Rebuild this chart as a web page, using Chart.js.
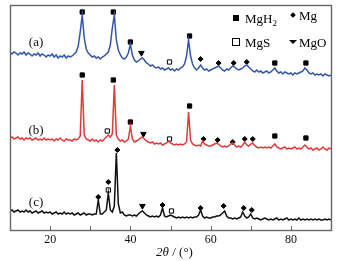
<!DOCTYPE html>
<html>
<head>
<meta charset="utf-8">
<script src="https://cdn.jsdelivr.net/npm/chart.js@4/dist/chart.umd.min.js"></script>
<style>
  html, body { margin: 0; padding: 0; background: #fff; }
  #wrap { width: 339px; height: 261px; }
</style>
</head>
<body>
<div id="wrap"><canvas id="xrdChart" width="339" height="261"></canvas></div>
<script>
// 2theta grid, 10..90 in 0.5 deg steps (161 points)
const twoTheta = [];
for (let i = 0; i <= 160; i++) twoTheta.push(10 + i * 0.5);

// intensities (arbitrary units, stacked)
const countsA = [
  178,176,178,177,175,177,176,178,175,177,
  176,174,176,175,177,174,176,175,173,175,
  174,176,173,175,172,174,173,175,172,174,
  173,174,176,178,184,198,215,192,181,177,
  175,173,174,172,173,171,173,174,176,178,
  185,202,215,190,180,175,172,171,173,177,
  186,175,170,168,169,171,172,170,167,166,
  164,165,163,162,163,161,162,160,161,162,
  160,161,159,161,160,162,163,166,174,190,
  174,166,162,160,162,165,162,160,161,159,
  160,161,162,163,164,162,160,159,161,160,
  162,164,163,161,160,161,162,164,165,163,
  161,159,158,160,158,159,157,158,159,157,
  158,160,162,159,157,158,156,158,157,156,
  157,155,157,156,157,158,159,162,160,157,
  156,157,155,156,155,156,154,156,155,154,155
];
const countsB = [
  92,93,91,92,93,91,92,90,92,91,
  92,90,91,92,90,91,90,92,90,91,
  90,91,89,91,90,92,90,89,91,90,
  90,89,91,90,91,94,150,95,91,90,
  89,91,89,90,88,90,89,91,93,95,
  93,96,145,95,91,89,90,88,89,91,
  104,91,88,89,90,92,93,91,89,88,
  87,88,86,87,86,87,85,86,87,89,
  87,86,85,86,85,86,85,86,88,118,
  90,86,85,84,85,84,89,86,85,84,
  84,85,86,87,86,84,83,84,83,84,
  86,87,85,83,84,83,85,88,85,84,
  86,87,84,83,82,83,82,83,82,83,
  82,84,86,83,82,81,82,83,81,82,
  81,82,83,81,82,81,83,85,83,81,
  82,80,81,82,80,81,83,81,80,82,81
];
const countsC = [
  19,20,18,19,20,18,19,18,20,18,
  19,17,18,19,17,18,19,17,18,17,
  18,16,17,18,16,17,16,18,16,17,
  16,17,15,16,17,15,16,17,15,16,
  16,15,16,16,30,16,16,18,20,37,
  20,18,24,77,26,17,18,15,14,15,
  15,14,15,14,16,18,19,17,15,14,
  13,14,13,14,13,15,22,14,13,14,
  15,14,13,12,13,12,13,12,13,12,
  13,12,13,13,15,20,14,12,13,12,
  12,13,13,14,14,15,17,19,14,12,
  12,11,12,11,12,13,18,14,12,13,
  16,12,11,12,11,10,11,12,11,10,
  11,10,11,12,10,11,10,11,12,10,
  11,10,11,10,12,10,11,10,11,10,
  11,10,11,10,11,10,10,11,10,11,10
];

// phase markers: [2theta, height]
const mgh2Marks = [[28,218],[35.75,218],[40,188],[54.75,194],[76,167],[83.75,167],
                   [28,155],[35.75,150],[40,108],[54.75,124],[76,94],[83.75,92]];
const mgMarks = [[57.5,171],[62,167],[65.75,167],[69,168],
                 [58.25,91],[61.75,90],[65.5,88],[68.5,91],[70.5,91],
                 [32,33],[34.5,48],[36.75,80],[48,25],[57.5,22],[63.25,24],[68.25,22],[70.25,20]];
const mgsMarks = [[49.75,168],[34.25,99],[49.75,91],[34.5,40],[50.25,19]];
const mgoMarks = [[42.75,177],[43.25,96],[43,24]];

const curveLabels = [['(a)',16.5,187],['(b)',16.5,99],['(c)',16.5,27]];
const xTicks = [10,20,30,40,50,60,70,80,90];

const SERIF = '"Liberation Serif", "DejaVu Serif", serif';

function toXY(xs, ys) { return xs.map((x, i) => ({ x: x, y: ys[i] })); }
function marks(list) { return list.map(p => ({ x: p[0], y: p[1] })); }

function curve(data, color) {
    return { data: data, borderColor: color, borderWidth: 1.5, pointRadius: 0, tension: 0, fill: false };
}
function markerSet(data, style, fill, radius, rot) {
    return {
        data: data, showLine: false, pointStyle: style, pointRadius: radius,
        pointBackgroundColor: fill, pointBorderColor: '#000', pointBorderWidth: 1,
        pointRotation: rot || 0
    };
}

const framePlugin = {
    id: 'frame',
    afterDraw(chart) {
        const ctx = chart.ctx;
        const a = chart.chartArea;
        const xs = chart.scales.x;
        ctx.save();
        ctx.strokeStyle = '#666';
        ctx.lineWidth = 1.4;
        ctx.strokeRect(a.left + 0.5, a.top + 0.5, a.right - a.left, a.bottom - a.top);
        // inside ticks
        ctx.lineWidth = 1;
        xTicks.forEach(v => {
            const px = Math.round(xs.getPixelForValue(v)) + 0.5;
            ctx.beginPath();
            ctx.moveTo(px, a.bottom);
            ctx.lineTo(px, a.bottom - 4);
            ctx.stroke();
        });
        // curve labels
        ctx.fillStyle = '#111';
        ctx.font = '13px ' + SERIF;
        ctx.textAlign = 'center';
        ctx.textBaseline = 'middle';
        const ys = chart.scales.y;
        curveLabels.forEach(l => ctx.fillText(l[0], xs.getPixelForValue(l[1]), ys.getPixelForValue(l[2])));
        // axis title
        ctx.textBaseline = 'alphabetic';
        ctx.textAlign = 'left';
        ctx.font = 'italic 13px ' + SERIF;
        const t1 = '2θ';
        const t2 = ' / (°)';
        const w1 = ctx.measureText(t1).width;
        ctx.font = '13px ' + SERIF;
        const w2 = ctx.measureText(t2).width;
        const cx = (a.left + a.right) / 2 + 4;
        let x0 = cx - (w1 + w2) / 2;
        ctx.font = 'italic 13px ' + SERIF;
        ctx.fillText(t1, x0, 256);
        ctx.font = '13px ' + SERIF;
        ctx.fillText(t2, x0 + w1, 256);
        // legend
        ctx.fillStyle = '#000';
        ctx.fillRect(233, 15, 6, 6);
        ctx.fillText('MgH', 245, 23);
        const wH = ctx.measureText('MgH').width;
        ctx.font = '9px ' + SERIF;
        ctx.fillText('2', 245 + wH, 26);
        ctx.font = '13px ' + SERIF;
        ctx.save();
        ctx.translate(293, 15);
        ctx.rotate(Math.PI / 4);
        ctx.fillRect(-2, -2, 4, 4);
        ctx.restore();
        ctx.fillText('Mg', 299, 20);
        ctx.strokeStyle = '#000';
        ctx.strokeRect(232.5, 38.5, 7, 7);
        ctx.fillText('MgS', 245, 47);
        ctx.beginPath();
        ctx.moveTo(289, 40);
        ctx.lineTo(297, 40);
        ctx.lineTo(293, 44);
        ctx.closePath();
        ctx.fill();
        ctx.fillText('MgO', 299, 47);
        ctx.restore();
    }
};

new Chart(document.getElementById('xrdChart'), {
    type: 'line',
    data: {
        datasets: [
            curve(toXY(twoTheta, countsA), '#3556a8'),
            curve(toXY(twoTheta, countsB), '#e23a3a'),
            curve(toXY(twoTheta, countsC), '#111111'),
            markerSet(marks(mgh2Marks), 'rect', '#000', 3),
            markerSet(marks(mgMarks), 'rectRot', '#000', 2.5),
            markerSet(marks(mgsMarks), 'rect', '#fff', 3),
            markerSet(marks(mgoMarks), 'triangle', '#000', 3.2, 180)
        ]
    },
    options: {
        responsive: false,
        animation: false,
        layout: { padding: { left: 10, right: 8, top: 5, bottom: 0 } },
        plugins: { legend: { display: false }, tooltip: { enabled: false } },
        scales: {
            x: {
                type: 'linear',
                min: 10,
                max: 90,
                afterFit: s => { s.height = 31; },
                afterBuildTicks: s => { s.ticks = xTicks.map(v => ({ value: v })); },
                grid: { display: false, drawTicks: false },
                border: { display: false },
                ticks: {
                    color: '#111',
                    font: { family: SERIF, size: 12 },
                    padding: 3,
                    maxRotation: 0,
                    autoSkip: false,
                    callback: v => (v % 20 === 0 && v > 10 && v < 90) ? String(v) : ''
                }
            },
            y: {
                min: 0,
                max: 225,
                afterFit: s => { s.width = 0; },
                grid: { display: false, drawTicks: false },
                border: { display: false },
                ticks: { display: false }
            }
        }
    },
    plugins: [framePlugin]
});
</script>
</body>
</html>
